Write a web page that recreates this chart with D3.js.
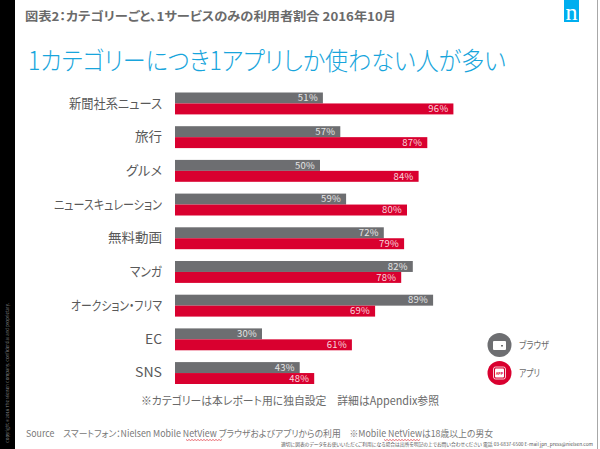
<!DOCTYPE html>
<html><head><meta charset="utf-8">
<script src="https://cdn.jsdelivr.net/npm/d3@7/dist/d3.min.js"></script>
<style>html,body{margin:0;padding:0;background:#fff}svg{display:block}text{font-family:"Noto Sans CJK JP","Noto Sans",sans-serif;font-feature-settings:"palt"}</style>
</head><body><svg id="c" width="600" height="449"></svg>
<script>
const categories=["新聞社系ニュース","旅行","グルメ","ニュースキュレーション","無料動画","マンガ","オークション・フリマ","EC","SNS"];
const browserValues=[51,57,50,59,72,82,89,30,43];
const appValues=[96,87,84,80,79,78,69,61,48];
const seriesNames=["ブラウザ","アプリ"];
const colors=["#6d6e71","#d9002f"];
const labelWidths=[93,27,36,108,54,32,91,17,27];
const svg=d3.select("#c");
const x=d3.scaleLinear().domain([0,100]).range([175,465]);
const y=d3.scaleBand().domain(categories).range([92.5,384]).paddingInner(0.35).paddingOuter(0);
function fit(sel,w){const n=sel.node();n.setAttribute("textLength",w);n.setAttribute("lengthAdjust","spacingAndGlyphs");return sel;}
// frame
svg.append("rect").attr("x",0).attr("y",0).attr("width",15).attr("height",449).attr("fill","#000");
svg.append("rect").attr("x",597).attr("y",0).attr("width",1).attr("height",449).attr("fill","#a8a8a8");
fit(svg.append("text").attr("transform","translate(9,443) rotate(-90)").attr("font-size",3.8).attr("fill","#8a8a8a").text("Copyright ©2016 The Nielsen Company. Confidential and proprietary."),140);
// headings
fit(svg.append("text").attr("x",25).attr("y",21).attr("font-size",12).attr("font-weight",700).attr("fill","#6a6a6a").text("図表2：カテゴリーごと、1サービスのみの利用者割合 2016年10月"),371);
fit(svg.append("text").attr("x",28).attr("y",70).attr("font-size",25.5).attr("font-weight",300).attr("fill","#18a5dc").text("1カテゴリーにつき1アプリしか使わない人が多い"),478);
// logo
svg.append("rect").attr("x",564).attr("y",0).attr("width",15).attr("height",22).attr("fill","#00aeef");
svg.append("text").attr("x",571.5).attr("y",20).attr("text-anchor","middle").attr("font-size",24).style("font-family","'Liberation Serif',serif").attr("fill","#fff").text("n");
// axis labels
const yAxis=d3.axisLeft(y).tickSize(0).tickPadding(13);
const ax=svg.append("g").attr("transform","translate(175,0)").call(yAxis);
ax.select(".domain").remove();
ax.selectAll("text").attr("font-size",13).attr("fill","#595959")
  .attr("textLength",(d,i)=>labelWidths[i]).attr("lengthAdjust","spacingAndGlyphs");
// bars
const step=y.bandwidth()/2;
[browserValues,appValues].forEach((vals,s)=>{
  const g=svg.append("g");
  g.selectAll("rect").data(vals).join("rect")
    .attr("x",x(0)).attr("y",(d,i)=>y(categories[i])+s*step)
    .attr("width",d=>x(d)-x(0)).attr("height",step).attr("fill",colors[s]);
  g.selectAll("text").data(vals).join("text")
    .attr("x",d=>x(d)-5).attr("y",(d,i)=>y(categories[i])+s*step+step/2+3.3)
    .attr("text-anchor","end").attr("font-size",9.5).attr("letter-spacing",0.25)
    .attr("fill",s?"#f7d7dd":"#e4e4e4").text(d=>d+"%");
});
// notes
fit(svg.append("text").attr("x",141).attr("y",405).attr("font-size",11.5).attr("fill","#6a6a6a").text("※カテゴリーは本レポート用に独自設定　詳細はAppendix参照"),298);
fit(svg.append("text").attr("x",26).attr("y",437).attr("font-size",9.3).attr("fill","#777").text("Source　スマートフォン：Nielsen Mobile NetView ブラウザおよびアプリからの利用　※Mobile NetViewは18歳以上の男女"),467);
fit(svg.append("text").attr("x",281).attr("y",446).attr("font-size",4.6).attr("fill","#555").text("適切に図表のデータをお使いいただくご利用になる場合は出所を明記の上でお問い合わせください 電話 03-6837-6500 E-mail jpn_press@nielsen.com"),312);
// spell-check squiggles under NetView
[[186,222],[384,420]].forEach(([a,b])=>{
  const pts=d3.range(a,b+0.1,1.5).map((px,i)=>[px,439.5+(i%2?1:0)]);
  svg.append("path").attr("d",d3.line()(pts)).attr("fill","none").attr("stroke","#e0303a").attr("stroke-width",0.7);
});
// legend
const legY=[345,373];
const legW=[30,21];
legY.forEach((cy,i)=>{
  svg.append("circle").attr("cx",499.5).attr("cy",cy).attr("r",12).attr("fill",colors[i]);
  fit(svg.append("text").attr("x",519).attr("y",cy+3.5).attr("font-size",10).attr("fill","#6a6a6a").text(seriesNames[i]),legW[i]);
});
svg.append("rect").attr("x",493).attr("y",341).attr("width",13).attr("height",9).attr("rx",1).attr("fill","#fff");
svg.append("rect").attr("x",501).attr("y",345).attr("width",2).attr("height",1.5).attr("fill","#6d6e71");
svg.append("rect").attr("x",493.5).attr("y",367).attr("width",12).attr("height",12).attr("rx",2).attr("fill","none").attr("stroke","#fff").attr("stroke-width",0.8);
svg.append("rect").attr("x",495).attr("y",368.5).attr("width",9).attr("height",9).attr("rx",1).attr("fill","#fff");
svg.append("text").attr("x",499.5).attr("y",374.5).attr("text-anchor","middle").attr("font-size",3.6).attr("font-weight",700).attr("fill",colors[1]).text("APP");
</script></body></html>
